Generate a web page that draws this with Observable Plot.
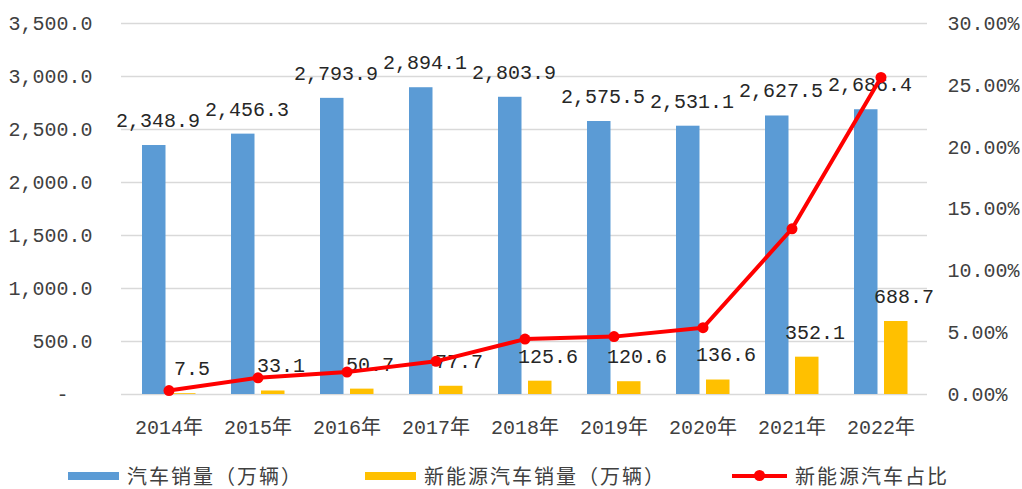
<!DOCTYPE html>
<html>
<head>
<meta charset="utf-8">
<script src="https://cdn.jsdelivr.net/npm/d3@7"></script>
<script src="https://cdn.jsdelivr.net/npm/@observablehq/plot@0.6"></script>
<style>
  html, body { margin: 0; padding: 0; background: #fff; }
  #wrap { width: 1022px; height: 489px; position: relative; }
  #legend { position: relative; width: 1022px; height: 39px; font-family: "Noto Sans CJK SC", sans-serif; font-size: 20px; color: #404040; letter-spacing: 2px; }
  .item { position: absolute; top: 15px; height: 22px; line-height: 22px; display: flex; align-items: center; white-space: nowrap; }
  .sw { display: inline-block; margin-right: 8px; position: relative; }
</style>
</head>
<body>
<div id="wrap">
  <div id="chart"></div>
  <div id="legend"></div>
</div>
<script>
// ---- data ----
const years = ["2014年", "2015年", "2016年", "2017年", "2018年", "2019年", "2020年", "2021年", "2022年"];
const carSales = [2348.9, 2456.3, 2793.9, 2894.1, 2803.9, 2575.5, 2531.1, 2627.5, 2686.4];
const nevSales = [7.5, 33.1, 50.7, 77.7, 125.6, 120.6, 136.6, 352.1, 688.7];
const nevShare = [0.32, 1.35, 1.81, 2.68, 4.48, 4.68, 5.40, 13.40, 25.64]; // percent
const leftTicks = [0, 500, 1000, 1500, 2000, 2500, 3000, 3500];
const rightTicks = [0, 5, 10, 15, 20, 25, 30]; // percent
const seriesNames = ["汽车销量（万辆）", "新能源汽车销量（万辆）", "新能源汽车占比"];
const colors = ["#5B9BD5", "#FFC000", "#FF0000"];

const leftMax = 3500, rightMax = 30;
const rows = years.map((y, i) => ({year: y, car: carSales[i], nev: nevSales[i], share: nevShare[i]}));
const toLeft = p => p / rightMax * leftMax;

const mono = "'Liberation Mono', 'Noto Sans CJK SC', monospace";
const fmt1 = d3.format(",.1f");

const chart = Plot.plot({
  width: 1022,
  height: 450,
  marginTop: 23,
  marginBottom: 56,
  marginLeft: 121,
  marginRight: 95,
  style: {fontFamily: mono, fontSize: "20px", color: "#404040", background: "#fff"},
  x: {domain: years, padding: 0, label: null},
  y: {domain: [0, leftMax], label: null},
  marks: [
    Plot.gridY(leftTicks, {stroke: "#D9D9D9", strokeOpacity: 1, strokeWidth: 1.5}),
    Plot.axisY(leftTicks, {anchor: "left", tickSize: 0, tickPadding: 29, fontSize: 20,
      tickFormat: d => d === 0 ? "-\u00a0\u00a0" : fmt1(d), label: null}),
    Plot.axisY(rightTicks.map(toLeft), {anchor: "right", tickSize: 0, tickPadding: 20, fontSize: 20,
      tickFormat: d => (d / leftMax * rightMax).toFixed(2) + "%", label: null}),
    Plot.axisX({tickSize: 0, tickPadding: 25, fontSize: 20, label: null}),
    Plot.barY(rows, {x: "year", y: "car", fill: colors[0], insetLeft: 18, insetRight: 47.5}),
    Plot.barY(rows, {x: "year", y: "nev", fill: colors[1], insetLeft: 48, insetRight: 17.5}),
    Plot.text(rows, {x: "year", y: "car", text: d => fmt1(d.car), dx: -11, dy: -25, fill: "#262626", fontSize: 20}),
    Plot.text(rows, {x: "year", y: "nev", text: d => fmt1(d.nev), dx: 23, dy: -25, fill: "#262626", fontSize: 20}),
    Plot.line(rows, {x: "year", y: d => toLeft(d.share), stroke: colors[2], strokeWidth: 4}),
    Plot.dot(rows, {x: "year", y: d => toLeft(d.share), r: 5.5, fill: colors[2], stroke: "none"})
  ]
});
document.getElementById("chart").appendChild(chart);

// ---- legend ----
const legend = document.getElementById("legend");
const legendLeft = [68, 365, 732];
seriesNames.forEach((name, i) => {
  const item = document.createElement("div");
  item.className = "item";
  item.style.left = legendLeft[i] + "px";
  const sw = document.createElement("span");
  sw.className = "sw";
  if (i < 2) {
    sw.style.width = "51px"; sw.style.height = "8px"; sw.style.background = colors[i];
  } else {
    sw.style.width = "55px"; sw.style.height = "4px"; sw.style.background = colors[i];
    const dot = document.createElement("span");
    dot.style.cssText = `position:absolute;left:22px;top:-4px;width:11px;height:11px;border-radius:50%;background:${colors[i]};`;
    sw.appendChild(dot);
  }
  item.appendChild(sw);
  const t = document.createElement("span");
  t.textContent = name;
  item.appendChild(t);
  legend.appendChild(item);
});
</script>
</body>
</html>
